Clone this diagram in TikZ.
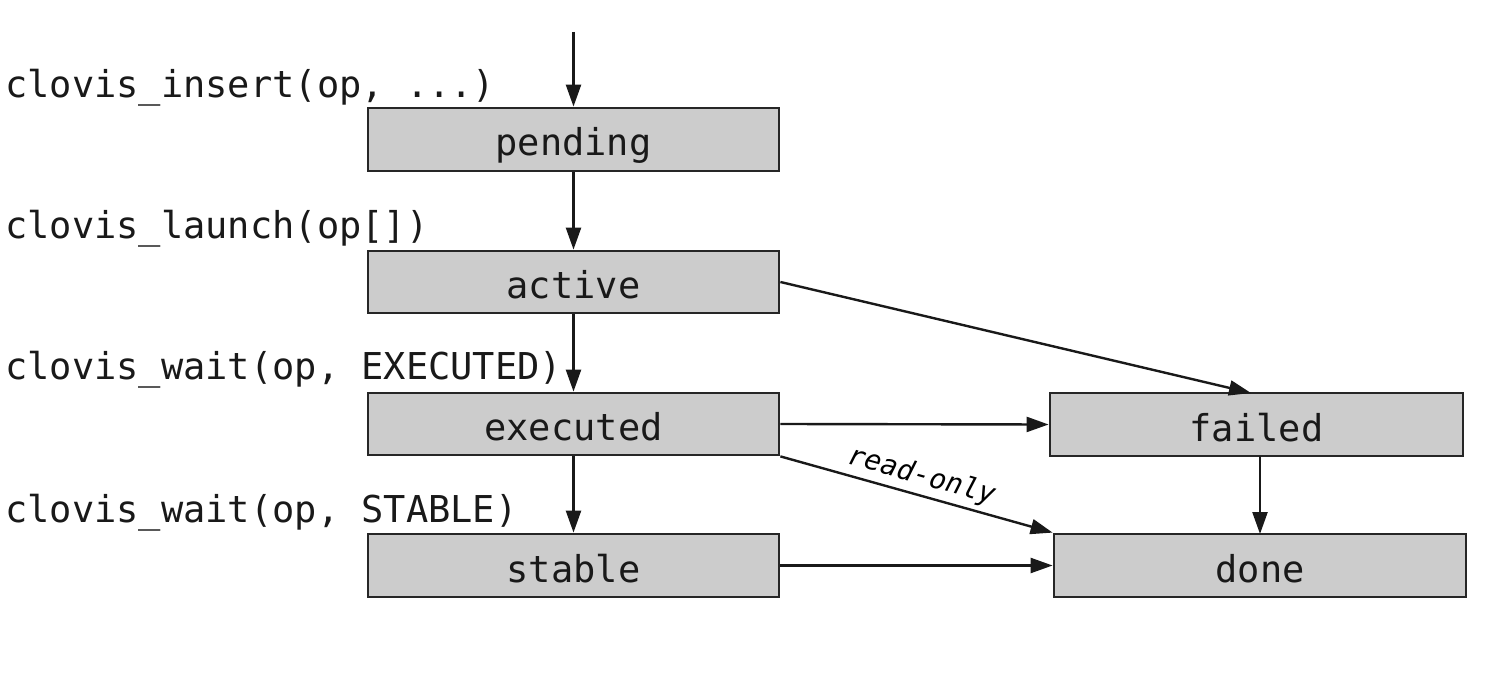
\documentclass[tikz,border=0pt]{standalone}
\usepackage{fontspec}
\setmonofont{DejaVu Sans Mono}
\usetikzlibrary{arrows.meta,calc}
\tikzset{
  statebox/.style={draw=black!85, line width=2.8pt, fill=black!20, inner sep=0pt,
    text height=33pt, text depth=0pt,
    font=\ttfamily\fontsize{37}{40}\selectfont, text=black!90},
  calllabel/.style={anchor=base west, inner sep=0pt, font=\ttfamily\fontsize{37}{40}\selectfont, text=black!90},
  flow/.style={draw=black!90, line width=2.4pt, -{Triangle[length=22pt,width=15pt]}},
}
\begin{document}
\begin{tikzpicture}[x=1pt,y=-1pt]
\useasboundingbox (0,0) rectangle (1494,692);
\node[statebox, minimum width=411pt, minimum height=63pt] (pending) at (573.5,139.5) {pending};
\node[statebox, minimum width=411pt, minimum height=62pt] (active) at (573.5,282) {active};
\node[statebox, minimum width=411pt, minimum height=62pt] (executed) at (573.5,424) {executed};
\node[statebox, minimum width=411pt, minimum height=63pt] (stable) at (573.5,565.5) {stable};
\node[statebox, minimum width=413pt, minimum height=63pt] (failed) at (1256.5,424.5) {failed};
\node[statebox, minimum width=412pt, minimum height=63pt] (done) at (1260,565.5) {done};

\node[calllabel] (l1) at (5,98) {clovis\_insert(op, ...)};
\node[calllabel] (l2) at (5,239) {clovis\_launch(op[])};
\node[calllabel] (l3) at (5,380) {clovis\_wait(op, EXECUTED)};
\node[calllabel] (l4) at (5,522) {clovis\_wait(op, STABLE)};

\coordinate (start) at (573.5,32);
\coordinate (fs) at (1260,456);
\coordinate (dn) at (1260,534);
\coordinate (ft) at (1251,393);
\draw[flow] (start) -- (pending.north);
\draw[flow] (pending.south) -- (active.north);
\draw[flow] (active.south) -- (executed.north);
\draw[flow] (executed.south) -- (stable.north);
\draw[flow] (active.east) -- (ft);
\draw[flow] (executed.east) -- (failed.west);
\draw[flow] (executed.south east) -- node[pos=0.5, sloped, above, inner sep=4pt,
  font=\ttfamily\itshape\fontsize{28}{30}\selectfont] (ro) {read-only} (done.north west);
\draw[flow] (stable.east) -- (done.west);
\draw[flow] (fs) -- (dn);
\end{tikzpicture}
\end{document}
